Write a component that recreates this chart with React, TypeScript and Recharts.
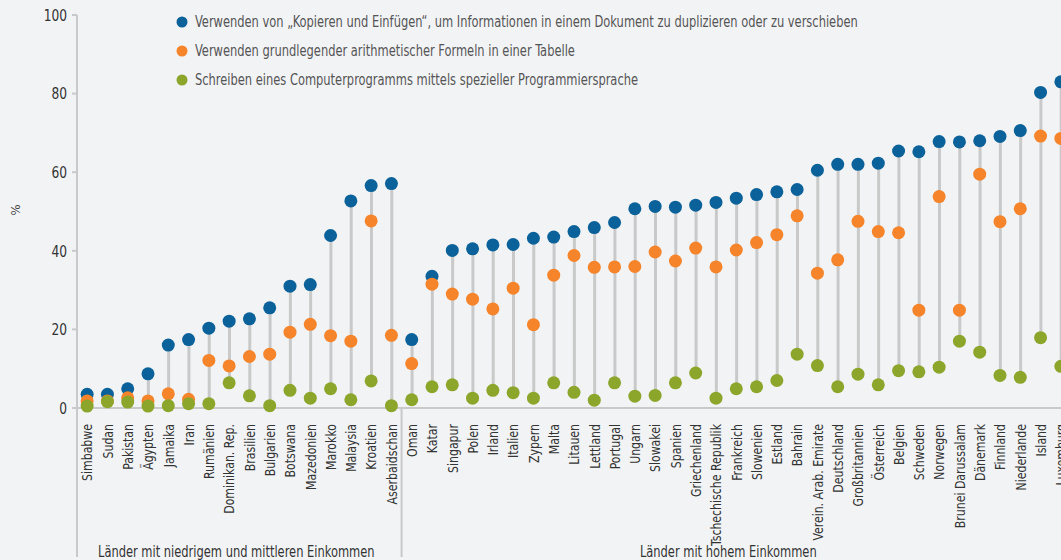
import React from 'react';
import { ComposedChart, Bar, Scatter, XAxis, YAxis } from 'recharts';

const countries = [
  'Simbabwe', 'Sudan', 'Pakistan', 'Ägypten', 'Jamaika', 'Iran', 'Rumänien', 'Dominikan. Rep.',
  'Brasilien', 'Bulgarien', 'Botswana', 'Mazedonien', 'Marokko', 'Malaysia', 'Kroatien', 'Aserbaidschan',
  'Oman', 'Katar', 'Singapur', 'Polen', 'Irland', 'Italien', 'Zypern', 'Malta', 'Litauen', 'Lettland',
  'Portugal', 'Ungarn', 'Slowakei', 'Spanien', 'Griechenland', 'Tschechische Republik', 'Frankreich',
  'Slowenien', 'Estland', 'Bahrain', 'Verein. Arab. Emirate', 'Deutschland', 'Großbritannien',
  'Österreich', 'Belgien', 'Schweden', 'Norwegen', 'Brunei Darussalam', 'Dänemark', 'Finnland',
  'Niederlande', 'Island', 'Luxemburg',
];

// Kopieren und Einfügen
const copyPaste = [
  3.5, 3.5, 4.9, 8.7, 16.0, 17.4, 20.3, 22.1, 22.7, 25.5, 31.0, 31.4, 43.9, 52.7, 56.6, 57.1,
  17.4, 33.5, 40.1, 40.5, 41.5, 41.6, 43.2, 43.5, 44.9, 45.9, 47.2, 50.7, 51.3, 51.1, 51.6, 52.3,
  53.4, 54.3, 55.0, 55.6, 60.5, 62.0, 62.0, 62.3, 65.4, 65.2, 67.8, 67.7, 68.0, 69.1, 70.6, 80.3, 83.0,
];

// arithmetische Formeln
const formulas = [
  1.8, 1.8, 2.6, 1.8, 3.6, 2.2, 12.1, 10.7, 13.1, 13.7, 19.3, 21.3, 18.4, 17.0, 47.6, 18.5,
  11.3, 31.5, 29.0, 27.7, 25.2, 30.5, 21.2, 33.8, 38.8, 35.8, 35.9, 36.0, 39.7, 37.4, 40.7, 35.9,
  40.2, 42.1, 44.1, 48.9, 34.3, 37.7, 47.5, 44.9, 44.6, 24.9, 53.8, 24.9, 59.5, 47.4, 50.7, 69.2, 68.6,
];

// Computerprogramm schreiben
const programming = [
  0.5, 1.6, 1.5, 0.5, 0.6, 1.1, 1.1, 6.4, 3.1, 0.6, 4.5, 2.5, 4.9, 2.1, 6.9, 0.6,
  2.1, 5.4, 5.9, 2.5, 4.5, 3.9, 2.5, 6.4, 4.0, 2.0, 6.4, 3.0, 3.2, 6.4, 8.9, 2.5,
  4.9, 5.4, 7.0, 13.7, 10.8, 5.4, 8.6, 5.9, 9.5, 9.2, 10.4, 17.0, 14.2, 8.3, 7.8, 17.9, 10.6,
];

const yTicks = [0, 20, 40, 60, 80, 100];

const groups = [
  { label: 'Länder mit niedrigem und mittleren Einkommen', count: 16 },
  { label: 'Länder mit hohem Einkommen', count: 33 },
];

const legendItems = [
  { label: 'Verwenden von „Kopieren und Einfügen“, um Informationen in einem Dokument zu duplizieren oder zu verschieben', color: '#0b629a' },
  { label: 'Verwenden grundlegender arithmetischer Formeln in einer Tabelle', color: '#f5842a' },
  { label: 'Schreiben eines Computerprogramms mittels spezieller Programmiersprache', color: '#8ca62c' },
];

// no condensed web font available, so squeeze DejaVu Condensed a bit
const FONT = "'DejaVu Sans Condensed', 'DejaVu Sans', sans-serif";
const SQUEEZE = 0.85;
const GRID = '#c9c9c9';
const BG = '#f2f3f5';

const CHART_W = 1080;
const CHART_H = 560;
const PLOT_LEFT = 77;
const PLOT_RIGHT = 9;
const PLOT_TOP = 15;
const X_AXIS_H = 152;
const BAND = (CHART_W - PLOT_LEFT - PLOT_RIGHT) / countries.length;
const AXIS_Y = CHART_H - X_AXIS_H;

const data = countries.map((country, i) => ({
  country,
  copy: copyPaste[i],
  formula: formulas[i],
  prog: programming[i],
  range: [
    Math.min(copyPaste[i], formulas[i], programming[i]),
    Math.max(copyPaste[i], formulas[i], programming[i]),
  ],
}));

const dot = (color: string) => (props: any) => (
  <circle cx={props.cx} cy={props.cy} r={6.5} fill={color} />
);

const CountryTick = (props: any) => {
  const { x, y, payload } = props;
  return (
    <text
      transform={`translate(${x},${y + 8}) rotate(-90) scale(0.84,1)`}
      textAnchor="end"
      dy="0.36em"
      fontSize={14.5}
      fontFamily={FONT}
      fill="#333"
    >
      {payload.value}
    </text>
  );
};

const ValueTick = (props: any) => {
  const { x, y, payload } = props;
  return (
    <text
      transform={`translate(${x},${y}) scale(0.85,1)`}
      textAnchor="end"
      dy="0.36em"
      fontSize={16}
      fontFamily={FONT}
      fill="#333"
    >
      {payload.value}
    </text>
  );
};

export default function App() {
  let start = 0;
  const groupSpans = groups.map((g) => {
    const x0 = PLOT_LEFT + start * BAND;
    start += g.count;
    const x1 = Math.min(PLOT_LEFT + start * BAND, 1061);
    return { ...g, x0, x1 };
  });

  return (
    <div
      style={{
        position: 'fixed',
        left: 0,
        top: 0,
        width: 1061,
        height: 560,
        overflow: 'hidden',
        background: BG,
        fontFamily: FONT,
      }}
    >
      <ComposedChart
        width={CHART_W}
        height={CHART_H}
        data={data}
        margin={{ top: PLOT_TOP, right: PLOT_RIGHT, bottom: 0, left: 0 }}
        barCategoryGap={0}
      >
        <XAxis
          dataKey="country"
          interval={0}
          height={X_AXIS_H}
          tick={<CountryTick />}
          tickLine={false}
          axisLine={{ stroke: GRID, strokeWidth: 2 }}
        />
        <YAxis
          domain={[0, 100]}
          ticks={yTicks}
          width={PLOT_LEFT}
          tickSize={5}
          tickMargin={5}
          tickLine={{ stroke: GRID, strokeWidth: 2 }}
          axisLine={{ stroke: GRID, strokeWidth: 2 }}
          tick={<ValueTick />}
        />
        <Bar dataKey="range" barSize={3} fill={GRID} isAnimationActive={false} />
        <Scatter dataKey="copy" shape={dot('#0b629a')} isAnimationActive={false} />
        <Scatter dataKey="formula" shape={dot('#f5842a')} isAnimationActive={false} />
        <Scatter dataKey="prog" shape={dot('#8ca62c')} isAnimationActive={false} />
      </ComposedChart>

      <svg
        width={1061}
        height={560}
        style={{ position: 'absolute', left: 0, top: 0, pointerEvents: 'none' }}
      >
        <line x1={PLOT_LEFT} x2={PLOT_LEFT} y1={AXIS_Y} y2={557} stroke={GRID} strokeWidth={2} />
        {groupSpans.slice(1).map((g) => (
          <line key={g.label} x1={g.x0} x2={g.x0} y1={AXIS_Y} y2={557} stroke={GRID} strokeWidth={2} />
        ))}
        {groupSpans.map((g) => (
          <text
            key={g.label}
            transform={`translate(${(g.x0 + g.x1) / 2 - 3},557) scale(${SQUEEZE},1)`}
            textAnchor="middle"
            fontSize={15}
            fill="#333"
            fontFamily={FONT}
          >
            {g.label}
          </text>
        ))}
        <text
          transform="translate(15,210) rotate(-90)"
          textAnchor="middle"
          dy="0.35em"
          fontSize={13}
          fill="#444"
          fontFamily={FONT}
        >
          %
        </text>
        {legendItems.map((item, i) => (
          <g key={item.label} transform={`translate(182,${22 + i * 29})`}>
            <circle r={5.5} fill={item.color} />
            <text
              transform={`translate(13,0) scale(${SQUEEZE},1)`}
              dy="0.35em"
              fontSize={15}
              fill="#555"
              fontFamily={FONT}
            >
              {item.label}
            </text>
          </g>
        ))}
      </svg>
    </div>
  );
}
